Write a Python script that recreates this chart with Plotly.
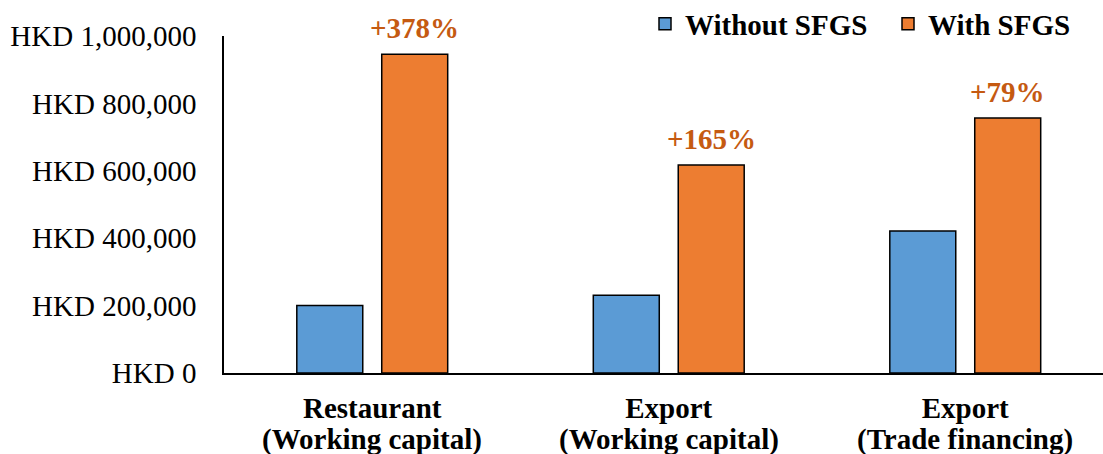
import plotly.graph_objects as go

categories = ["Restaurant<br>(Working capital)", "Export<br>(Working capital)", "Export<br>(Trade financing)"]
without_sfgs = [200000, 231000, 421000]
with_sfgs = [946000, 617000, 757000]
pct_labels = ["+378%", "+165%", "+79%"]
tick_vals = [0, 200000, 400000, 600000, 800000, 1000000]
tick_text = ["HKD 0", "HKD 200,000", "HKD 400,000", "HKD 600,000", "HKD 800,000", "HKD 1,000,000"]

FONT = "Times New Roman, Liberation Serif, serif"
FS = 29
W, H = 1103, 454
ML, MR, MT, MB = 224, 0, 36, 80.5
cat_px = 296.5
plot_w = W - ML - MR
plot_h = H - MT - MB

first_lines = [c.split("<br>")[0] for c in categories]
second_lines = [c.split("<br>")[1] for c in categories]

fig = go.Figure()
fig.add_trace(go.Bar(
    name="Without SFGS", x=list(range(len(categories))), y=without_sfgs,
    marker=dict(color="#5B9BD5", line=dict(color="#000000", width=1.5)),
))
fig.add_trace(go.Bar(
    name="With SFGS", x=list(range(len(categories))), y=with_sfgs,
    marker=dict(color="#ED7D31", line=dict(color="#000000", width=1.5)),
))

for i, (v, t) in enumerate(zip(with_sfgs, pct_labels)):
    fig.add_annotation(
        x=i, y=v, text="<b>%s</b>" % t, showarrow=False,
        xanchor="center", yanchor="bottom", xshift=42.5, yshift=8,
        font=dict(family=FONT, size=FS, color="#C55A11"),
    )

for i, t in enumerate(second_lines):
    fig.add_annotation(
        x=i, y=0, xref="x", yref="paper", text="<b>%s</b>" % t, showarrow=False,
        xanchor="center", yanchor="middle", yshift=-66,
        font=dict(family=FONT, size=FS, color="#000000"),
    )

fig.update_layout(
    width=W, height=H,
    margin=dict(l=ML, r=MR, t=MT, b=MB, pad=0, autoexpand=False),
    paper_bgcolor="white", plot_bgcolor="white",
    barmode="group", bargap=0.427, bargroupgap=0.2235,
    font=dict(family=FONT, size=FS, color="#000000"),
    legend=dict(
        orientation="h", x=(645 - ML) / plot_w, xanchor="left",
        y=(373.5 - 24) / plot_h, yanchor="middle",
        entrywidth=198, entrywidthmode="pixels",
        font=dict(family=FONT, size=FS, color="#000000", weight="bold"),
        bgcolor="rgba(0,0,0,0)", itemclick=False,
    ),
    showlegend=True,
)
fig.update_xaxes(
    range=[-0.5, -0.5 + plot_w / cat_px],
    tickvals=list(range(len(categories))),
    ticktext=["<b>%s</b>" % c for c in first_lines],
    showline=True, linecolor="#000000", linewidth=1.5,
    showgrid=False, ticks="", zeroline=False,
    ticklabelstandoff=8, automargin=False,
    tickfont=dict(family=FONT, size=FS, color="#000000"),
)
fig.update_yaxes(
    range=[0, 1000000],
    tickvals=tick_vals, ticktext=tick_text,
    showline=True, linecolor="#000000", linewidth=1.5,
    showgrid=False, ticks="", zeroline=False,
    ticklabelstandoff=20, automargin=False,
    tickfont=dict(family=FONT, size=FS, color="#000000"),
)

fig.write_html("out.html")
